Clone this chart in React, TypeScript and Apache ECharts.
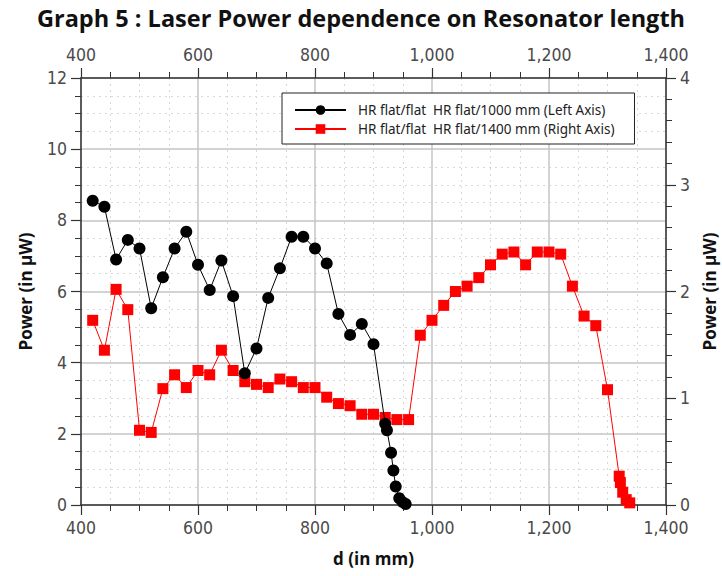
import React, { useEffect, useRef } from "react";
import * as echarts from "echarts";

const titleText = "Graph 5 : Laser Power dependence on Resonator length";
const xName = "d (in mm)";
const yName = "Power (in µW)";
const seriesNames = [
  "HR flat/flat\u00a0 HR flat/1000 mm (Left Axis)",
  "HR flat/flat\u00a0 HR flat/1400 mm (Right Axis)",
];

const blackX = [420, 440, 460, 480, 500, 520, 540, 560, 580, 600, 620, 640, 660, 680, 700, 720, 740, 760, 780, 800, 820, 840, 860, 880, 900, 920, 923, 930, 934, 938, 944, 950, 955];
const blackY = [8.55, 8.38, 6.9, 7.45, 7.21, 5.53, 6.4, 7.21, 7.68, 6.75, 6.04, 6.87, 5.87, 3.7, 4.4, 5.82, 6.65, 7.54, 7.54, 7.21, 6.79, 5.37, 4.78, 5.09, 4.52, 2.28, 2.1, 1.47, 0.97, 0.52, 0.19, 0.08, 0.03];

const redX = [420, 440, 460, 480, 500, 520, 540, 560, 580, 600, 620, 640, 660, 680, 700, 720, 740, 760, 780, 800, 820, 840, 860, 880, 900, 920, 940, 960, 980, 1000, 1020, 1040, 1060, 1080, 1100, 1120, 1140, 1160, 1180, 1200, 1220, 1240, 1260, 1280, 1300, 1320, 1322, 1326, 1332, 1338];
const redY = [1.73, 1.45, 2.02, 1.83, 0.7, 0.68, 1.09, 1.22, 1.1, 1.26, 1.22, 1.45, 1.26, 1.155, 1.13, 1.1, 1.18, 1.155, 1.1, 1.1, 1.01, 0.95, 0.93, 0.85, 0.85, 0.82, 0.8, 0.8, 1.59, 1.73, 1.87, 2.0, 2.05, 2.13, 2.25, 2.35, 2.37, 2.25, 2.37, 2.37, 2.35, 2.05, 1.77, 1.68, 1.08, 0.27, 0.21, 0.12, 0.05, 0.02];

const tickFont = "'Liberation Sans Narrow', 'DejaVu Sans Condensed', sans-serif";
const boldFont = "'Open Sans', 'Noto Sans', sans-serif";

export default function App() {
  const ref = useRef<HTMLDivElement>(null);
  useEffect(() => {
    if (!ref.current) return;
    const chart = echarts.init(ref.current, undefined, { renderer: "svg" });
    const fmt = (v: number) => v.toLocaleString("en-US");
    const axisLabel = { fontFamily: tickFont, fontSize: 17.5, color: "#4a4a4a", margin: 14 };
    const axisLine = { show: true, onZero: false, lineStyle: { color: "#333", width: 1.5 } };
    const majorTick = { show: true, length: 10, lineStyle: { color: "#333", width: 1.2 } };
    const minorTickX = { show: true, splitNumber: 4, length: 6, lineStyle: { color: "#333", width: 1 } };
    const nameStyle = { fontFamily: boldFont, fontWeight: "bold" as const, fontSize: 17, color: "#111" };
    chart.setOption({
      animation: false,
      backgroundColor: "#fff",
      title: {
        text: titleText,
        left: "center",
        top: 1,
        textStyle: { fontFamily: boldFont, fontWeight: "bold", fontSize: 23.5, color: "#111" },
      },
      grid: { left: 81, right: 56, top: 78, bottom: 71, containLabel: false, outerBoundsMode: "none" },
      legend: {
        orient: "vertical",
        left: 282,
        top: 93,
        padding: [10, 20, 8, 12],
        itemGap: 5,
        itemWidth: 51,
        itemHeight: 12,
        borderColor: "#222",
        borderWidth: 1,
        backgroundColor: "#fff",
        textStyle: { fontFamily: "'Noto Sans', sans-serif", fontSize: 13.5, color: "#222", padding: [0, 0, 0, 7] },
        data: seriesNames,
      },
      xAxis: [
        {
          type: "value",
          position: "bottom",
          min: 400,
          max: 1400,
          interval: 200,
          name: xName,
          nameLocation: "middle",
          nameGap: 45,
          nameTextStyle: nameStyle,
          axisLine,
          axisTick: majorTick,
          minorTick: minorTickX,
          axisLabel: { ...axisLabel, formatter: fmt },
          splitLine: { show: true, lineStyle: { color: "#c4c4c4", width: 1.5 } },
          minorSplitLine: { show: true, lineStyle: { color: "#d8d8d8", width: 1, type: [2, 4] } },
        },
        {
          type: "value",
          position: "top",
          min: 400,
          max: 1400,
          interval: 200,
          axisLine,
          axisTick: majorTick,
          minorTick: minorTickX,
          axisLabel: { ...axisLabel, formatter: fmt },
          splitLine: { show: false },
        },
      ],
      yAxis: [
        {
          type: "value",
          position: "left",
          min: 0,
          max: 12,
          interval: 2,
          name: yName,
          nameLocation: "middle",
          nameRotate: 90,
          nameGap: 47,
          nameTextStyle: nameStyle,
          axisLine,
          axisTick: majorTick,
          minorTick: { show: true, splitNumber: 4, length: 6, lineStyle: { color: "#333", width: 1 } },
          axisLabel,
          splitLine: { show: true, lineStyle: { color: "#c4c4c4", width: 1.5 } },
          minorSplitLine: { show: true, lineStyle: { color: "#d8d8d8", width: 1, type: [2, 4] } },
        },
        {
          type: "value",
          position: "right",
          min: 0,
          max: 4,
          interval: 1,
          name: yName,
          nameLocation: "middle",
          nameRotate: 90,
          nameGap: 34,
          nameTextStyle: nameStyle,
          axisLine,
          axisTick: majorTick,
          minorTick: { show: true, splitNumber: 5, length: 6, lineStyle: { color: "#333", width: 1 } },
          axisLabel,
          splitLine: { show: false },
        },
      ],
      series: [
        {
          name: seriesNames[0],
          type: "line",
          xAxisIndex: 0,
          yAxisIndex: 0,
          data: blackX.map((x, i) => [x, blackY[i]]),
          symbol: "circle",
          symbolSize: 12,
          lineStyle: { color: "#000", width: 1 },
          itemStyle: { color: "#000" },
          z: 3,
        },
        {
          name: seriesNames[1],
          type: "line",
          xAxisIndex: 0,
          yAxisIndex: 1,
          data: redX.map((x, i) => [x, redY[i]]),
          symbol: "rect",
          symbolSize: 11,
          lineStyle: { color: "#ff0000", width: 1 },
          itemStyle: { color: "#ff0000" },
          z: 2,
        },
      ],
    });
    return () => chart.dispose();
  }, []);
  return <div ref={ref} style={{ width: 722, height: 576, position: "absolute", left: 0, top: 0 }} />;
}
